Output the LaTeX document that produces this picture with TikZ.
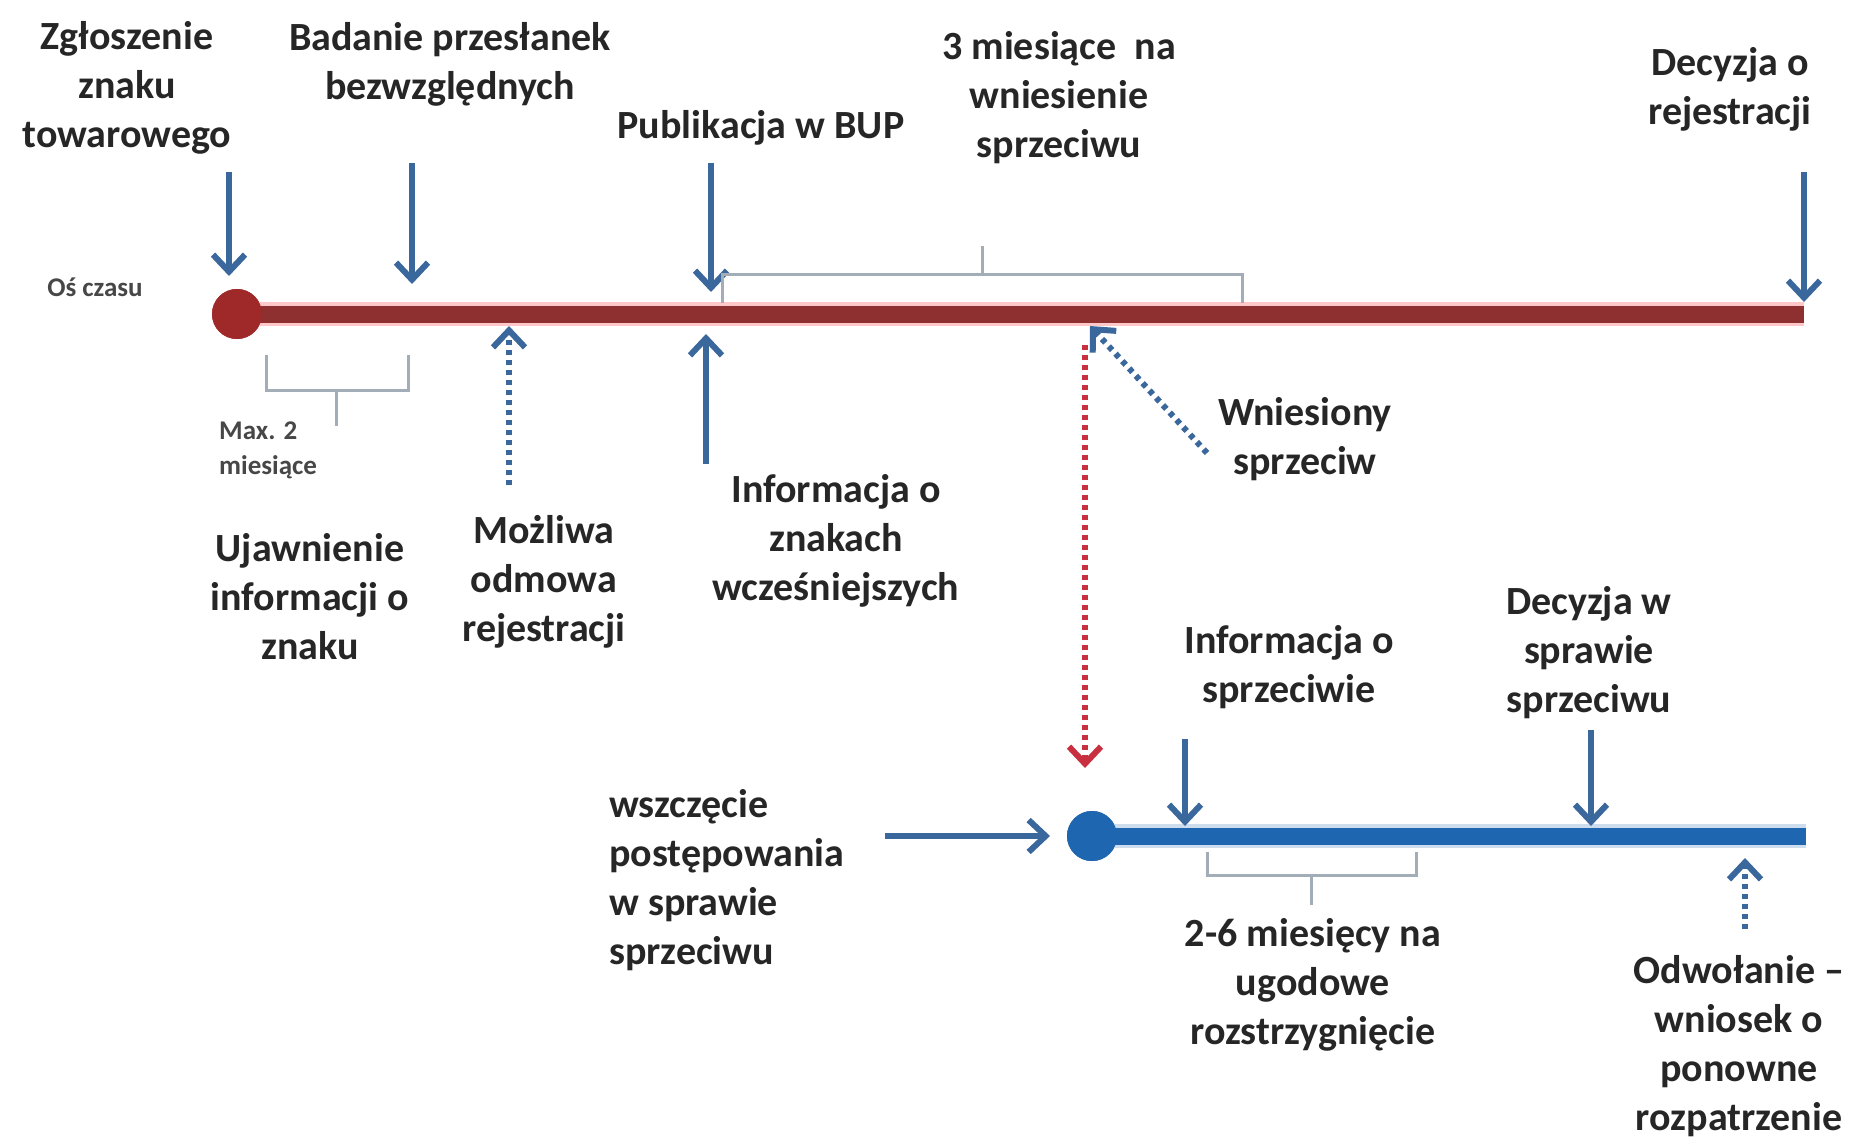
\documentclass[tikz,border=0pt]{standalone}
\usepackage{fontspec}
\setmainfont{Carlito}
\usetikzlibrary{arrows.meta}
\definecolor{txt}{HTML}{262626}
\definecolor{arrblue}{HTML}{3A679C}
\definecolor{lineblue}{HTML}{1F66B0}
\definecolor{linered}{HTML}{8E2F30}
\definecolor{dotred}{HTML}{C8303F}
\definecolor{brk}{HTML}{A3ADB8}
\begin{document}
\begin{tikzpicture}[x=1pt,y=-1pt,
  lbl/.style={font=\bfseries\fontsize{40}{49}\selectfont, text=txt, align=center, inner sep=0pt},
  small/.style={font=\bfseries\fontsize{27}{35}\selectfont, text=txt!85, align=left, inner sep=0pt},
  evarrow/.style={draw=arrblue, line width=6pt, -{Straight Barb[length=17pt,width=32pt]}},
  dotarrow/.style={draw=arrblue, line width=6pt, dash pattern=on 5pt off 5pt, -{Straight Barb[length=17pt,width=32pt]}},
  reddot/.style={draw=dotred, line width=6pt, dash pattern=on 5pt off 5pt, -{Straight Barb[length=17pt,width=32pt]}},
  bracket/.style={draw=brk, line width=3pt},
  redtl/.style={draw=linered, line width=17pt},
  bluetl/.style={draw=lineblue, line width=17pt},
]
\path[use as bounding box, fill=white] (0,0) rectangle (1855,1140);

% ---------- red timeline ----------
\coordinate (r1end) at (1804,314);
\node[circle, fill=linered!85!red, minimum size=50pt, inner sep=0pt] (c1) at (237,314) {};
\draw[draw=red!22, line width=24pt] (c1.center) -- (r1end);
\draw[redtl] (c1.center) -- (r1end);
\node[circle, fill=linered!85!red, minimum size=50pt, inner sep=0pt] at (237,314) {};
\node[small] (os) at (95,287) {Oś czasu};

% top labels
\node[lbl] (zg) at (127,88) {Zgłoszenie\\znaku\\towarowego};
\node[lbl] (bad) at (450,64) {Badanie przesłanek\\bezwzględnych};
\node[lbl] (pub) at (761,128) {Publikacja w BUP};
\node[lbl] (trzy) at (1059,98) {3 miesiące~ na\\wniesienie\\sprzeciwu};
\node[lbl] (dec) at (1730,89) {Decyzja o\\rejestracji};

\coordinate (zgA) at (229,172); \coordinate (zgB) at (229,276);
\coordinate (badA) at (412,163); \coordinate (badB) at (412,284);
\coordinate (pubA) at (711,163); \coordinate (pubB) at (711,292);
\coordinate (decA) at (1804,172); \coordinate (decB) at (1804,302);
\draw[evarrow] (zgA) -- (zgB);
\draw[evarrow] (badA) -- (badB);
\draw[evarrow] (pubA) -- (pubB);
\draw[evarrow] (decA) -- (decB);

% top bracket
\draw[bracket] (722,303) -- (722,274) -- (1242,274) -- (1242,303);
\draw[bracket] (982,274) -- (982,246);

% bottom-left bracket
\draw[bracket] (266,355) -- (266,390) -- (408,390) -- (408,355);
\draw[bracket] (336,390) -- (336,426);
\node[small, anchor=north west] (max) at (219,422) {Max. 2\\miesiące};

% below labels
\node[lbl] (uja) at (310,597) {Ujawnienie\\informacji o\\znaku};
\node[lbl] (moz) at (544,582) {Możliwa\\odmowa\\rejestracji};
\node[lbl] (inf) at (836,541) {Informacja o\\znakach\\wcześniejszych};
\node[lbl] (wni) at (1305,439) {Wniesiony\\sprzeciw};

\coordinate (mozA) at (509,485); \coordinate (mozB) at (509,326);
\coordinate (infA) at (706,464); \coordinate (infB) at (706,334);
\coordinate (wniA) at (1207,453); \coordinate (wniB) at (1090,326);
\draw[dotarrow] (mozA) -- (mozB);
\draw[evarrow] (infA) -- (infB);
\draw[dotarrow] (wniA) -- (wniB);

% red dotted link
\coordinate (redA) at (1085,345); \coordinate (redB) at (1085,768);
\draw[reddot] (redA) -- (redB);

% ---------- blue timeline ----------
\coordinate (b1end) at (1806,836);
\node[circle, fill=lineblue, minimum size=50pt, inner sep=0pt] (c2) at (1092,836) {};
\draw[draw=lineblue!22, line width=24pt] (c2.center) -- (b1end);
\draw[bluetl] (c2.center) -- (b1end);
\node[circle, fill=lineblue, minimum size=50pt, inner sep=0pt] at (1092,836) {};

\node[lbl, align=left, anchor=west] (wsz) at (609,880) {wszczęcie\\postępowania\\w sprawie\\sprzeciwu};
\coordinate (wszA) at (885,836); \coordinate (wszB) at (1050,836);
\draw[evarrow] (wszA) -- (wszB);

\node[lbl] (ispr) at (1289,667) {Informacja o\\sprzeciwie};
\node[lbl] (dspr) at (1589,653) {Decyzja w\\sprawie\\sprzeciwu};
\coordinate (isA) at (1185,739); \coordinate (isB) at (1185,826);
\coordinate (dsA) at (1591,730); \coordinate (dsB) at (1591,826);
\draw[evarrow] (isA) -- (isB);
\draw[evarrow] (dsA) -- (dsB);

\draw[bracket] (1207,852) -- (1207,875) -- (1416,875) -- (1416,852);
\draw[bracket] (1311,875) -- (1311,905);
\node[lbl] (ugo) at (1313,985) {2-6 miesięcy na\\ugodowe\\rozstrzygnięcie};

\node[lbl] (odw) at (1739,1046) {Odwołanie –\\wniosek o\\ponowne\\rozpatrzenie};
\coordinate (odA) at (1745,929); \coordinate (odB) at (1745,858);
\draw[dotarrow] (odA) -- (odB);
\end{tikzpicture}
\end{document}
